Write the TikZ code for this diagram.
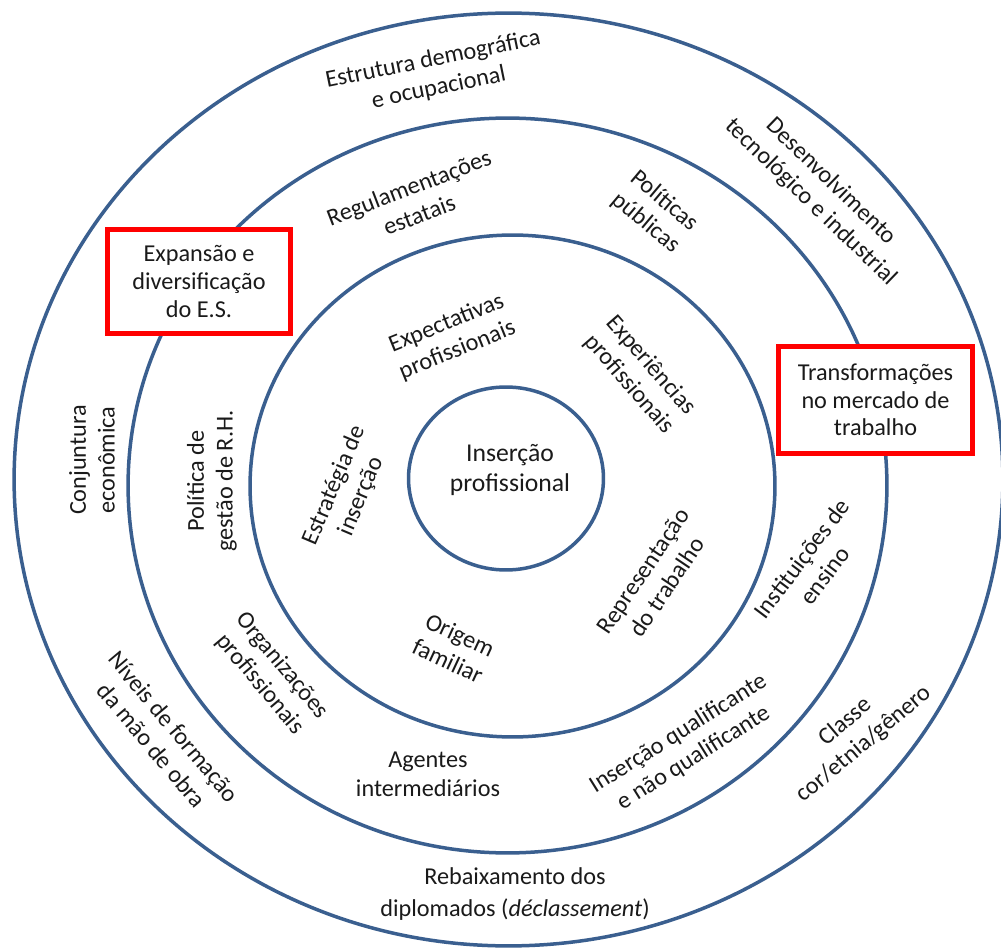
\documentclass[tikz,border=0pt]{standalone}
\usepackage{fontspec}
\setmainfont{Carlito}
\usetikzlibrary{shapes.geometric}
\definecolor{anel}{HTML}{3A5F8F}
\definecolor{texto}{HTML}{1A1A1A}

\begin{document}
\begin{tikzpicture}[x=0.02cm,y=-0.02cm,
    anelring/.style={draw=anel,line width=0.07cm,ellipse,inner sep=0pt},
    rotulo/.style={align=center,text=texto,inner sep=0pt,
      font=\fontsize{13.8}{16.4}\selectfont},
    caixa/.style={rotulo,draw=red,line width=0.1cm,fill=white,
      font=\fontsize{13.8}{15.8}\selectfont}]
    \useasboundingbox (0,0) rectangle (1001,949);
    \fill[white] (0,0) rectangle (1001,949);

    % aneis
    \node[anelring,minimum width=19.78cm,minimum height=18.66cm] (a1) at (508.5,479.5) {};
    \node[anelring,minimum width=15.18cm,minimum height=14.7cm] (a2) at (507.5,485.5) {};
    \node[anelring,minimum width=10.5cm,minimum height=10.04cm] (a3) at (512.5,486) {};
    \node[anelring,minimum width=3.9cm,minimum height=3.66cm] (a4) at (506,478.5) {};

    % anel externo
    \node[rotulo,rotate=11.5] (1) at (436,74) {Estrutura demográfica\\e ocupacional};
    \node[rotulo,rotate=-44] (2) at (821,192) {Desenvolvimento\\tecnológico e industrial};
    \node[rotulo,rotate=90] (3) at (92,460) {Conjuntura\\econômica};
    \node[rotulo,rotate=-50] (4) at (163,736) {Níveis de formação\\da mão de obra};
    \node[rotulo] (5) at (515,894) {Rebaixamento dos\\[2pt]diplomados (\textit{déclassement})};
    \node[rotulo,rotate=40] (6) at (855,733) {Classe\\cor/etnia/gênero};

    % segundo anel
    \node[rotulo,rotate=21] (7) at (414,201) {Regulamentações\\estatais};
    \node[rotulo,rotate=-40] (8) at (655,212) {Políticas\\públicas};
    \node[rotulo,rotate=90] (9) at (212,481) {Política de\\gestão de R.H.};
    \node[rotulo,rotate=-50] (10) at (271,675) {Organizações\\profissionais};
    \node[rotulo] (11) at (428,774) {Agentes\\intermediários};
    \node[rotulo,rotate=32] (12) at (686,746) {Inserção qualificante\\e não qualificante};
    \node[rotulo,rotate=53] (13) at (813,567) {Instituições de\\ensino};

    % terceiro anel
    \node[rotulo,rotate=22] (14) at (452,337) {Expectativas\\profissionais};
    \node[rotulo,rotate=-49] (15) at (640,375) {Experiências\\profissionais};
    \node[rotulo,rotate=67] (16) at (348,491) {Estratégia de\\inserção};
    \node[rotulo,rotate=-25] (17) at (454,648) {Origem\\familiar};
    \node[rotulo,rotate=56] (18) at (655,579) {Representação\\do trabalho};

    % centro
    \node[rotulo,font=\fontsize{14.6}{16.8}\selectfont] (19) at (510,470) {Inserção\\profissional};

    % caixas
    \node[caixa,minimum width=3.66cm,minimum height=2.08cm] (20) at (199,281.5) {Expansão e\\diversificação\\do E.S.};
    \node[caixa,minimum width=3.88cm,minimum height=2.15cm] (21) at (875.5,400) {Transformações\\no mercado de\\trabalho};
\end{tikzpicture}
\end{document}
